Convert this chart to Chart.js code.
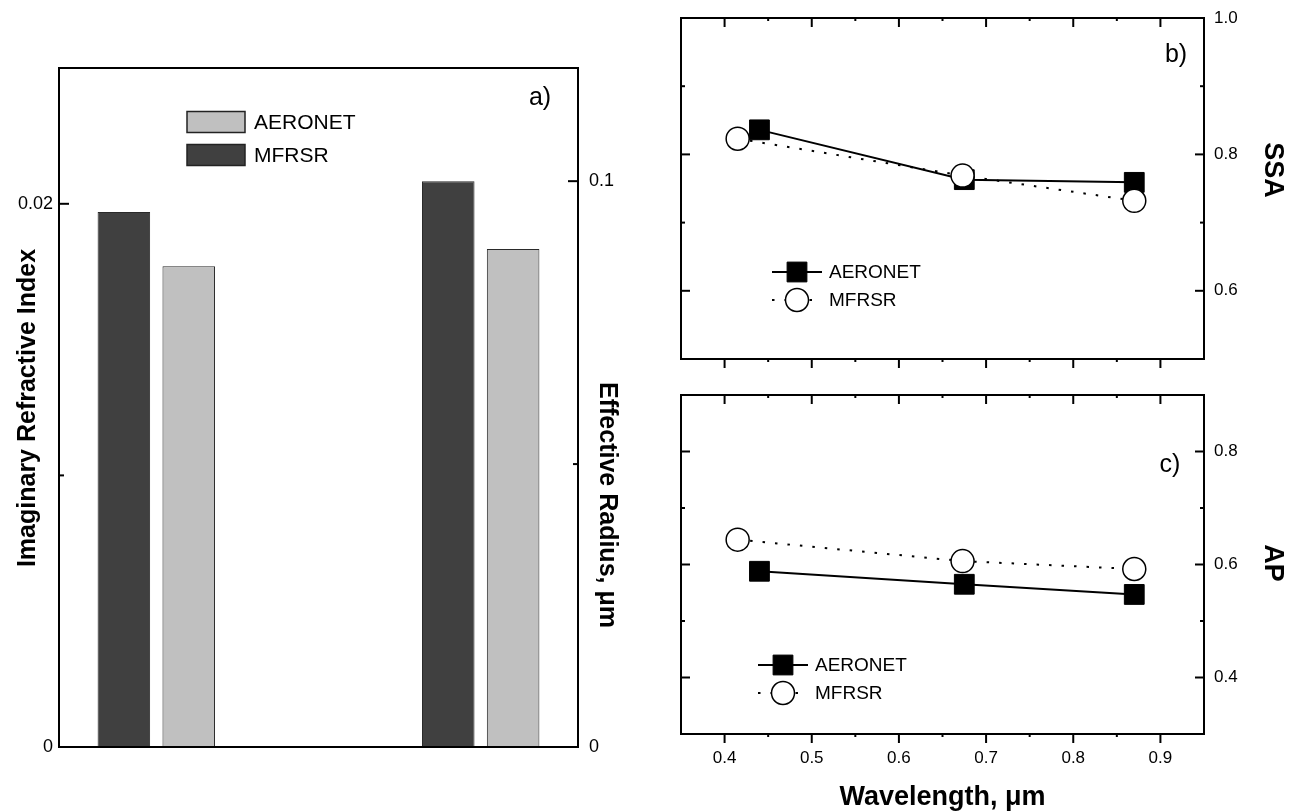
<!DOCTYPE html>
<html><head><meta charset="utf-8">
<script src="https://cdn.jsdelivr.net/npm/chart.js@4/dist/chart.umd.min.js"></script>
<style>
html,body{margin:0;padding:0;background:#fff;width:1294px;height:812px;overflow:hidden}
canvas{position:absolute}
</style></head><body>
<canvas id="cA" width="660" height="812" style="left:0;top:0;width:660px;height:812px"></canvas>
<canvas id="cB" width="634" height="380" style="left:660px;top:0;width:634px;height:380px"></canvas>
<canvas id="cC" width="634" height="432" style="left:660px;top:380px;width:634px;height:432px"></canvas>
<script>
// ---------- data ----------
const barSeries = ['AERONET', 'MFRSR'];
const imagIndexValues = [0.0177, 0.0197];   // AERONET, MFRSR
const effRadiusValues = [0.088, 0.100];     // AERONET, MFRSR (µm)
const imagSlots = [2, 1];                   // x slot of each bar (panel a)
const effSlots = [7, 6];
const imagTicks = [0, 0.02];
const imagTickLabels = ['0', '0.02'];
const imagMinor = [0.01];
const effTicks = [0, 0.1];
const effTickLabels = ['0', '0.1'];
const effMinor = [0.05];

const wlAERONET = [0.44, 0.675, 0.87];
const wlMFRSR = [0.415, 0.673, 0.87];
const ssaAERONET = [0.836, 0.763, 0.759];
const ssaMFRSR = [0.823, 0.769, 0.732];
const apAERONET = [0.588, 0.565, 0.547];
const apMFRSR = [0.644, 0.606, 0.592];

const wlTicks = [0.4, 0.5, 0.6, 0.7, 0.8, 0.9];
const wlTickLabels = ['0.4', '0.5', '0.6', '0.7', '0.8', '0.9'];
const wlMinor = [0.45, 0.55, 0.65, 0.75, 0.85];
const ssaTicks = [0.6, 0.8, 1.0];
const ssaTickLabels = ['0.6', '0.8', '1.0'];
const ssaMinor = [0.7, 0.9];
const apTicks = [0.4, 0.6, 0.8];
const apTickLabels = ['0.4', '0.6', '0.8'];
const apMinor = [0.5, 0.7];

// ---------- helpers ----------
const FONT = '"Liberation Sans", Arial, Helvetica, sans-serif';
Chart.defaults.font.family = FONT;
Chart.defaults.color = '#000';

function fixedTicks(values, labels) {
  return {
    afterBuildTicks: s => { s.ticks = values.map(v => ({ value: v })); },
    callback: (v, i) => labels[i]
  };
}
function setWidth(w) {
  return s => { s.width = w; s.paddingTop = 0; s.paddingBottom = 0; s.paddingLeft = 0; s.paddingRight = 0; };
}
function setHeight(h) {
  return s => { s.height = h; s.paddingTop = 0; s.paddingBottom = 0; s.paddingLeft = 0; s.paddingRight = 0; };
}

const framePlugin = {
  id: 'frame',
  afterDatasetsDraw(chart, args, o) {
    const { ctx, chartArea: a } = chart;
    ctx.save();
    ctx.strokeStyle = '#000';
    ctx.lineWidth = 2;
    ctx.strokeRect(a.left, a.top, a.right - a.left, a.bottom - a.top);
    (o.ticks || []).forEach(t => {
      const s = chart.scales[t.scale];
      ctx.lineWidth = t.width || 2;
      t.values.forEach(v => {
        const p = s.getPixelForValue(v);
        ctx.beginPath();
        if (t.side === 'left') { ctx.moveTo(a.left, p); ctx.lineTo(a.left + t.len, p); }
        else if (t.side === 'right') { ctx.moveTo(a.right, p); ctx.lineTo(a.right - t.len, p); }
        else if (t.side === 'top') { ctx.moveTo(p, a.top); ctx.lineTo(p, a.top + t.len); }
        else { ctx.moveTo(p, a.bottom); ctx.lineTo(p, a.bottom - t.len); }
        ctx.stroke();
      });
    });
    ctx.restore();
  }
};

const textPlugin = {
  id: 'texts',
  afterDraw(chart, args, o) {
    const ctx = chart.ctx;
    (o.items || []).forEach(t => {
      ctx.save();
      ctx.translate(t.x, t.y);
      if (t.rot) ctx.rotate(t.rot * Math.PI / 180);
      ctx.font = t.font;
      ctx.fillStyle = '#000';
      ctx.textAlign = t.align || 'center';
      ctx.textBaseline = 'middle';
      ctx.fillText(t.text, 0, 0);
      ctx.restore();
    });
  }
};

const barLegend = {
  id: 'barLegend',
  afterDraw(chart, args, o) {
    const ctx = chart.ctx;
    ctx.save();
    o.order.forEach((di, i) => {
      const ds = chart.data.datasets[di];
      const y = o.y + i * o.rowH;
      ctx.fillStyle = ds.backgroundColor;
      ctx.fillRect(o.x, y - o.boxH / 2, o.boxW, o.boxH);
      ctx.strokeStyle = '#222';
      ctx.lineWidth = 1.5;
      ctx.strokeRect(o.x, y - o.boxH / 2, o.boxW, o.boxH);
      ctx.fillStyle = '#000';
      ctx.font = o.font;
      ctx.textAlign = 'left';
      ctx.textBaseline = 'middle';
      ctx.fillText(ds.label, o.x + o.boxW + o.gap, y + 1);
    });
    ctx.restore();
  }
};

function drawMarker(ctx, ds, x, y) {
  ctx.fillStyle = ds.pointBackgroundColor;
  ctx.strokeStyle = ds.pointBorderColor;
  ctx.lineWidth = ds.pointBorderWidth;
  ctx.beginPath();
  if (ds.pointStyle === 'rect') {
    const h = Math.SQRT1_2 * ds.pointRadius;
    ctx.rect(x - h, y - h, 2 * h, 2 * h);
  } else {
    ctx.arc(x, y, ds.pointRadius, 0, Math.PI * 2);
  }
  ctx.fill();
  if (ds.pointBorderWidth) ctx.stroke();
}

const lineLegend = {
  id: 'lineLegend',
  afterDraw(chart, args, o) {
    const ctx = chart.ctx;
    o.order.forEach((di, i) => {
      const ds = chart.data.datasets[di];
      const y = o.y + i * o.rowH;
      ctx.save();
      ctx.strokeStyle = ds.borderColor;
      ctx.lineWidth = ds.borderWidth;
      ctx.setLineDash(ds.borderDash || []);
      ctx.beginPath();
      ctx.moveTo(o.x, y);
      ctx.lineTo(o.x + o.lineW, y);
      ctx.stroke();
      ctx.setLineDash([]);
      drawMarker(ctx, ds, o.x + o.lineW / 2, y);
      ctx.fillStyle = '#000';
      ctx.font = o.font;
      ctx.textAlign = 'left';
      ctx.textBaseline = 'middle';
      ctx.fillText(ds.label, o.x + o.lineW + o.gap, y + 1);
      ctx.restore();
    });
  }
};

const DARK = '#404040', LIGHT = '#c0c0c0';

// ---------- panel a ----------
const barColors = [LIGHT, DARK];
const barDatasets = [];
barSeries.forEach((name, i) => {
  barDatasets.push({ label: name, yAxisID: 'yK', backgroundColor: barColors[i],
    data: [{ x: imagSlots[i], y: imagIndexValues[i] }] });
});
barSeries.forEach((name, i) => {
  barDatasets.push({ label: name, yAxisID: 'yR', backgroundColor: barColors[i],
    data: [{ x: effSlots[i], y: effRadiusValues[i] }] });
});

new Chart(document.getElementById('cA'), {
  type: 'bar',
  data: { datasets: barDatasets },
  options: {
    responsive: false, animation: false, events: [], devicePixelRatio: 1,
    layout: { padding: { left: 0, right: 0, top: 68, bottom: 65 } },
    datasets: { bar: { grouped: false, categoryPercentage: 1, barPercentage: 0.81, borderWidth: 1, borderColor: '#2a2a2a' } },
    scales: {
      x: { type: 'linear', min: 0, max: 8, offset: false, display: false },
      yK: { type: 'linear', position: 'left', min: 0, max: 0.025,
        grid: { display: false, drawTicks: false }, border: { display: false },
        afterBuildTicks: fixedTicks(imagTicks, imagTickLabels).afterBuildTicks,
        ticks: { padding: 6, font: { size: 18 }, callback: fixedTicks(imagTicks, imagTickLabels).callback },
        afterFit: setWidth(59) },
      yR: { type: 'linear', position: 'right', min: 0, max: 0.12,
        grid: { display: false, drawTicks: false }, border: { display: false },
        afterBuildTicks: fixedTicks(effTicks, effTickLabels).afterBuildTicks,
        ticks: { padding: 11, font: { size: 18 }, callback: fixedTicks(effTicks, effTickLabels).callback },
        afterFit: setWidth(82) }
    },
    plugins: {
      legend: { display: false }, tooltip: { enabled: false },
      frame: { ticks: [
        { scale: 'yK', side: 'left', values: imagTicks.slice(1), len: 10 },
        { scale: 'yK', side: 'left', values: imagMinor, len: 5 },
        { scale: 'yR', side: 'right', values: effTicks.slice(1), len: 10 },
        { scale: 'yR', side: 'right', values: effMinor, len: 5 }
      ] },
      barLegend: { order: [0, 1], x: 187, y: 122, boxW: 58, boxH: 21, rowH: 33, gap: 9, font: '21px ' + FONT },
      texts: { items: [
        { text: 'a)', x: 540, y: 98, font: '25px ' + FONT },
        { text: 'Imaginary Refractive Index', x: 28, y: 408, rot: -90, font: 'bold 25px ' + FONT },
        { text: 'Effective Radius, μm', x: 607, y: 505, rot: 90, font: 'bold 25px ' + FONT }
      ] }
    }
  },
  plugins: [framePlugin, barLegend, textPlugin]
});

// ---------- panels b, c ----------
function lineDatasets(yA, yM) {
  return [
    { label: 'MFRSR', data: wlMFRSR.map((x, i) => ({ x, y: yM[i] })),
      borderColor: '#000', borderWidth: 2, borderDash: [2.5, 10], fill: false, tension: 0,
      pointStyle: 'circle', pointRadius: 11.5, pointBackgroundColor: '#fff', pointBorderColor: '#000', pointBorderWidth: 1.5 },
    { label: 'AERONET', data: wlAERONET.map((x, i) => ({ x, y: yA[i] })),
      borderColor: '#000', borderWidth: 2, fill: false, tension: 0,
      pointStyle: 'rect', pointRadius: 14, pointBackgroundColor: '#000', pointBorderColor: '#000', pointBorderWidth: 1 }
  ];
}
function frameTicks(yT, yMin) {
  return [
    { scale: 'y', side: 'left', values: yT, len: 9 },
    { scale: 'y', side: 'left', values: yMin, len: 4 },
    { scale: 'y', side: 'right', values: yT, len: 9 },
    { scale: 'y', side: 'right', values: yMin, len: 4 },
    { scale: 'x', side: 'top', values: wlTicks, len: 9 },
    { scale: 'x', side: 'top', values: wlMinor, len: 3 },
    { scale: 'x', side: 'bottom', values: wlTicks, len: -9 },
    { scale: 'x', side: 'bottom', values: wlMinor, len: -3 }
  ];
}

new Chart(document.getElementById('cB'), {
  type: 'line',
  data: { datasets: lineDatasets(ssaAERONET, ssaMFRSR) },
  options: {
    responsive: false, animation: false, events: [], devicePixelRatio: 1,
    layout: { padding: { left: 21, right: 0, top: 18, bottom: 21 } },
    scales: {
      x: { type: 'linear', min: 0.35, max: 0.95, display: false },
      y: { type: 'linear', position: 'right', min: 0.5, max: 1.0,
        grid: { display: false, drawTicks: false }, border: { display: false },
        afterBuildTicks: fixedTicks(ssaTicks, ssaTickLabels).afterBuildTicks,
        ticks: { padding: 10, font: { size: 17 }, callback: fixedTicks(ssaTicks, ssaTickLabels).callback },
        afterFit: setWidth(90) }
    },
    plugins: {
      legend: { display: false }, tooltip: { enabled: false },
      frame: { ticks: frameTicks(ssaTicks, ssaMinor) },
      lineLegend: { order: [1, 0], x: 112, y: 272, rowH: 28, lineW: 50, gap: 7, font: '19px ' + FONT },
      texts: { items: [
        { text: 'b)', x: 516, y: 55, font: '25px ' + FONT },
        { text: 'SSA', x: 612, y: 170, rot: 90, font: 'bold 27px ' + FONT }
      ] }
    }
  },
  plugins: [framePlugin, lineLegend, textPlugin]
});

new Chart(document.getElementById('cC'), {
  type: 'line',
  data: { datasets: lineDatasets(apAERONET, apMFRSR) },
  options: {
    responsive: false, animation: false, events: [], devicePixelRatio: 1,
    layout: { padding: { left: 21, right: 0, top: 13, bottom: 0 } },
    scales: {
      x: { type: 'linear', position: 'bottom', min: 0.35, max: 0.95,
        grid: { display: false, drawTicks: false }, border: { display: false },
        afterBuildTicks: fixedTicks(wlTicks, wlTickLabels).afterBuildTicks,
        ticks: { padding: 14, font: { size: 17 }, maxRotation: 0, autoSkip: false, callback: fixedTicks(wlTicks, wlTickLabels).callback },
        title: { display: true, text: 'Wavelength, μm', font: { size: 27, weight: 'bold', lineHeight: 1.1 }, padding: { top: 0, bottom: 0 } },
        afterFit: setHeight(78) },
      y: { type: 'linear', position: 'right', min: 0.3, max: 0.9,
        grid: { display: false, drawTicks: false }, border: { display: false },
        afterBuildTicks: fixedTicks(apTicks, apTickLabels).afterBuildTicks,
        ticks: { padding: 10, font: { size: 17 }, callback: fixedTicks(apTicks, apTickLabels).callback },
        afterFit: setWidth(90) }
    },
    plugins: {
      legend: { display: false }, tooltip: { enabled: false },
      frame: { ticks: frameTicks(apTicks, apMinor) },
      lineLegend: { order: [1, 0], x: 98, y: 285, rowH: 28, lineW: 50, gap: 7, font: '19px ' + FONT },
      texts: { items: [
        { text: 'c)', x: 510, y: 85, font: '25px ' + FONT },
        { text: 'AP', x: 612, y: 183, rot: 90, font: 'bold 27px ' + FONT }
      ] }
    }
  },
  plugins: [framePlugin, lineLegend, textPlugin]
});
</script>
</body></html>
